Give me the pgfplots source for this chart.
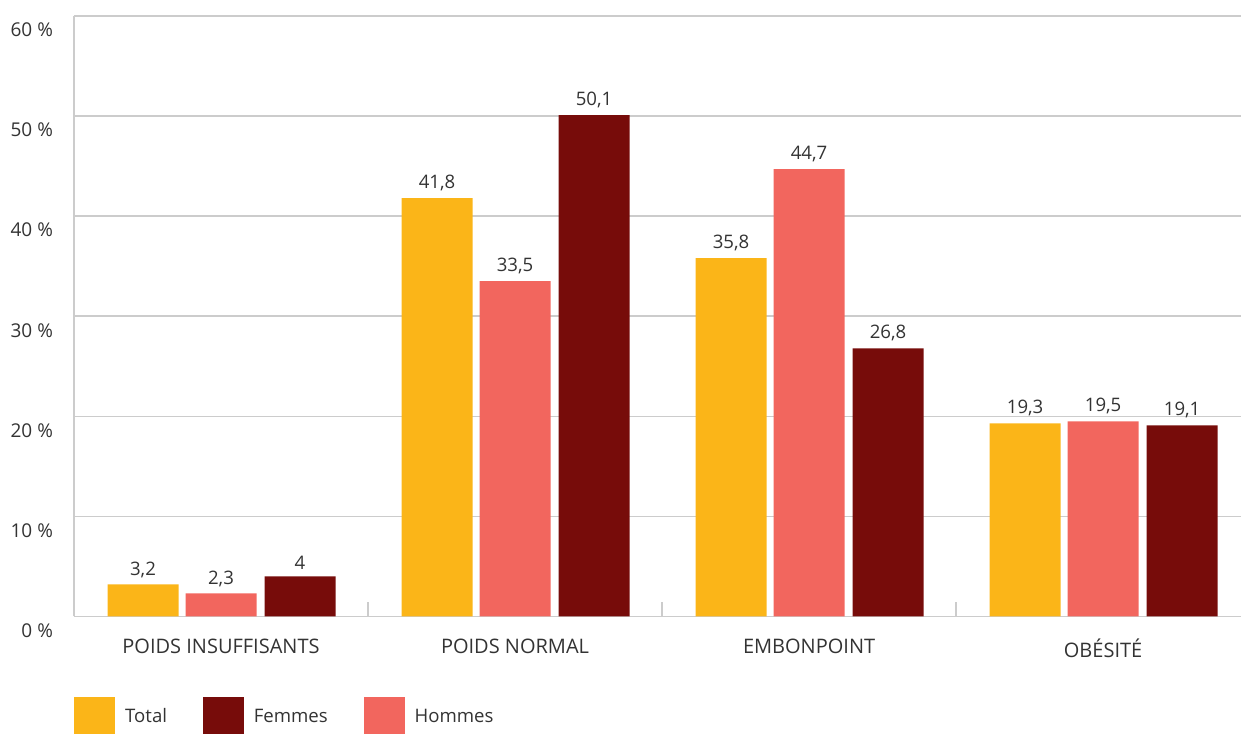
\documentclass[border=0pt]{standalone}
\usepackage{pgfplots}
\pgfplotsset{compat=1.18}
\usepackage{fontspec}
\setmainfont{Open Sans}
\definecolor{cTotal}{HTML}{FBB518}
\definecolor{cHommes}{HTML}{F2665E}
\definecolor{cFemmes}{HTML}{770C0A}
\definecolor{cGrid}{HTML}{CCCCCC}
\definecolor{cText}{HTML}{333333}
\begin{document}
\begin{tikzpicture}
\begin{axis}[
  at={(37pt,58.25pt)}, anchor=south west,
  scale only axis, width=583.5pt, height=300.25pt,
  xmin=-0.5, xmax=3.469, ymin=0, ymax=60,
  axis x line*=bottom, axis y line*=left,
  axis line style={cGrid, line width=0.75pt, -},
  ymajorgrids, grid style={cGrid, line width=0.75pt},
  ytick={0,10,20,30,40,50,60},
  yticklabels={0 \%,10 \%,20 \%,30 \%,40 \%,50 \%,60 \%},
  yticklabel style={font=\fontsize{9.5}{11}\selectfont, text=cText, yshift=-7pt, xshift=-7pt},
  major tick length=0pt,
  xtick={0,1,2,3},
  xticklabels={POIDS INSUFFISANTS,POIDS NORMAL,EMBONPOINT,OBÉSITÉ},
  xticklabel style={font=\fontsize{10}{12}\selectfont, text=cText, yshift=-7.5pt},
  extra x ticks={0.5,1.5,2.5}, extra x tick labels={},
  extra x tick style={major tick length=7pt, tick align=inside, tick style={cGrid, line width=0.75pt}},
  ybar, bar width=35.5pt,
  nodes near coords,
  nodes near coords style={font=\fontsize{9.3}{11}\selectfont, text=cText, /pgf/number format/use comma, /pgf/number format/assume math mode=true, yshift=0pt},
  legend columns=-1,
  legend style={draw=none, fill=none, at={(axis description cs:0,-0.168)}, anchor=west,
    font=\fontsize{9.3}{11}\selectfont, text=cText, inner sep=0pt,
    /tikz/every odd column/.append style={column sep=3pt},
    /tikz/every even column/.append style={column sep=16pt}},
]
\addlegendimage{legend image code/.code={\fill[cTotal] (0pt,-10pt) rectangle (20pt,10pt);}}
\addlegendimage{legend image code/.code={\fill[cFemmes] (0pt,-10pt) rectangle (20pt,10pt);}}
\addlegendimage{legend image code/.code={\fill[cHommes] (0pt,-10pt) rectangle (20pt,10pt);}}
\legend{Total,Femmes,Hommes}
\addplot[fill=cTotal, draw=none, bar shift=-39pt] coordinates {(0,3.2) (1,41.8) (2,35.8) (3,19.3)};
\addplot[fill=cHommes, draw=none, bar shift=0pt] coordinates {(0,2.3) (1,33.5) (2,44.7) (3,19.5)};
\addplot[fill=cFemmes, draw=none, bar shift=39.5pt] coordinates {(0,4) (1,50.1) (2,26.8) (3,19.1)};
\end{axis}
\pgfresetboundingbox
\useasboundingbox (0,0) rectangle (620.5pt,366.5pt);
\end{tikzpicture}
\end{document}
